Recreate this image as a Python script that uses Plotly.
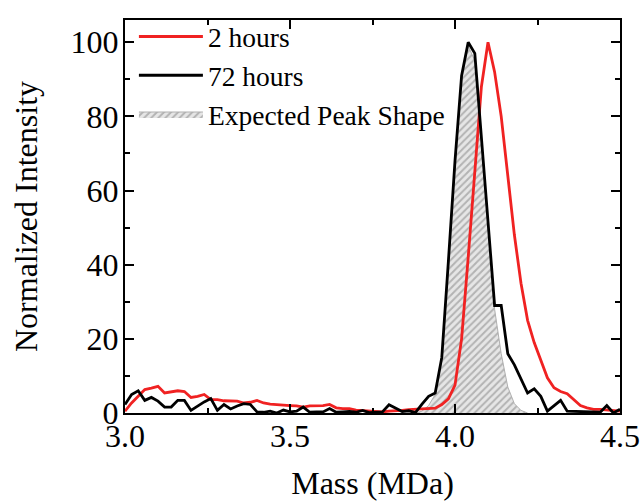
import plotly.graph_objects as go

mass = [3.00, 3.02, 3.04, 3.06, 3.08, 3.10, 3.12, 3.14, 3.16, 3.18,
        3.20, 3.22, 3.24, 3.26, 3.28, 3.30, 3.32, 3.34, 3.36, 3.38,
        3.40, 3.42, 3.44, 3.46, 3.48, 3.50, 3.52, 3.54, 3.56, 3.58,
        3.60, 3.62, 3.64, 3.66, 3.68, 3.70, 3.72, 3.74, 3.76, 3.78,
        3.80, 3.82, 3.84, 3.86, 3.88, 3.90, 3.92, 3.94, 3.96, 3.98,
        4.00, 4.02, 4.04, 4.06, 4.08, 4.10, 4.12, 4.14, 4.16, 4.18,
        4.20, 4.22, 4.24, 4.26, 4.28, 4.30, 4.32, 4.34, 4.36, 4.38,
        4.40, 4.42, 4.44, 4.46, 4.48, 4.50]

red_2h = [0.5, 2.7, 4.5, 6.3, 6.7, 7.2, 5.4, 5.8, 6.0, 5.8,
          4.2, 4.5, 5.0, 3.6, 3.6, 3.3, 3.2, 3.2, 2.7, 2.9,
          3.4, 2.7, 2.4, 2.2, 2.2, 2.0, 1.9, 1.6, 1.9, 1.9,
          2.0, 2.3, 1.4, 1.2, 1.2, 0.8, 0.7, 0.6, 0.4, 0.3,
          0.5, 0.5, 0.7, 0.9, 1.0, 1.0, 1.0, 1.3, 2.3, 3.8,
          7.5, 20, 42, 65, 88, 100, 92, 80, 64, 48,
          35, 25, 19, 14, 9.5, 6.8, 5.8, 5.2, 3.6, 2.0,
          1.4, 1.0, 1.0, 0.8, 0.5, 0.5]

black_72h = [2.3, 5.0, 6.0, 3.4, 4.2, 3.2, 1.6, 1.6, 3.4, 3.4,
             0.7, 1.9, 3.0, 3.9, 0.7, 2.3, 1.1, 1.9, 2.5, 2.3,
             0.3, 0.2, 0.5, 0.0, 0.8, 0.3, 0.5, 1.6, 0.2, 0.3,
             0.3, 1.2, 0.2, 0.3, 0.4, 0.2, 0.7, 0.1, 0.2, 0.3,
             2.2, 1.2, 0.4, 0.6, 0.1, 2.4, 4.5, 5.4, 15, 41,
             68, 91, 100, 97, 74, 51, 29, 29, 16, 13,
             9, 5.4, 6.5, 4.5, 0.5, 2.0, 3.4, 0.5, 0.4, 0.3,
             0.4, 0.3, 0.2, 2.0, 0.0, 1.0]

expected_mass = [3.88, 3.90, 3.92, 3.94, 3.96, 3.98, 4.00, 4.02, 4.04,
                 4.06, 4.08, 4.10, 4.12, 4.14, 4.16, 4.18, 4.20, 4.22]
expected_shape = [0, 0.5, 2, 5, 14, 38, 66, 90, 99,
                  95, 74, 50, 28, 16, 7, 2.5, 0.7, 0]

FONT = "Liberation Serif"

fig = go.Figure()
fig.add_trace(go.Scatter(
    x=expected_mass, y=expected_shape, name="Expected Peak Shape",
    mode="lines", fill="tozeroy", line=dict(color="#b0b0b0", width=1),
    fillcolor="#e6e6e6",
    fillpattern=dict(shape="/", fgcolor="#808080", bgcolor="#e6e6e6",
                     size=5, solidity=0.4),
    legendrank=3))
fig.add_trace(go.Scatter(
    x=mass, y=red_2h, name="2 hours", mode="lines",
    line=dict(color="#f02222", width=2.8), legendrank=1))
fig.add_trace(go.Scatter(
    x=mass, y=black_72h, name="72 hours", mode="lines",
    line=dict(color="black", width=2.8), legendrank=2))

axis_common = dict(
    showline=True, linecolor="black", linewidth=2, mirror="ticks",
    ticks="inside", ticklen=9, tickwidth=1.5, tickcolor="black",
    showgrid=False, zeroline=False, automargin=False,
    tickfont=dict(family=FONT, size=32, color="black"),
)

fig.update_xaxes(
    range=[3.0, 4.5], tickvals=[3.0, 3.5, 4.0, 4.5],
    ticktext=["3.0", "3.5", "4.0", "4.5"], ticklabelstandoff=-6,
    minor=dict(ticks="inside", ticklen=5, tickwidth=1.5, tickcolor="black",
               tickvals=[3.25, 3.75, 4.25]),
    title=dict(text="Mass (MDa)", font=dict(family=FONT, size=32, color="black"),
               standoff=18),
    **axis_common)
fig.update_yaxes(
    range=[0, 106], tickvals=[0, 20, 40, 60, 80, 100], ticklabelstandoff=-2,
    minor=dict(ticks="inside", ticklen=5, tickwidth=1.5, tickcolor="black",
               tickvals=[10, 30, 50, 70, 90]),
    title=dict(text="Normalized Intensity", font=dict(family=FONT, size=32, color="black"),
               standoff=23),
    **axis_common)

fig.update_layout(
    width=641, height=501,
    margin=dict(l=125, r=21, t=12, b=88),
    paper_bgcolor="white", plot_bgcolor="white",
    font=dict(family=FONT, color="black"),
    legend=dict(x=0.018, y=1.02, xanchor="left", yanchor="top",
                bgcolor="rgba(0,0,0,0)", itemwidth=64,
                font=dict(family=FONT, size=27.5, color="black"),
                tracegroupgap=0),
    showlegend=True,
)

fig.write_html("out.html",
               config={"displayModeBar": False},
               post_script="document.body.style.margin='0px';document.body.style.overflow='hidden';")
